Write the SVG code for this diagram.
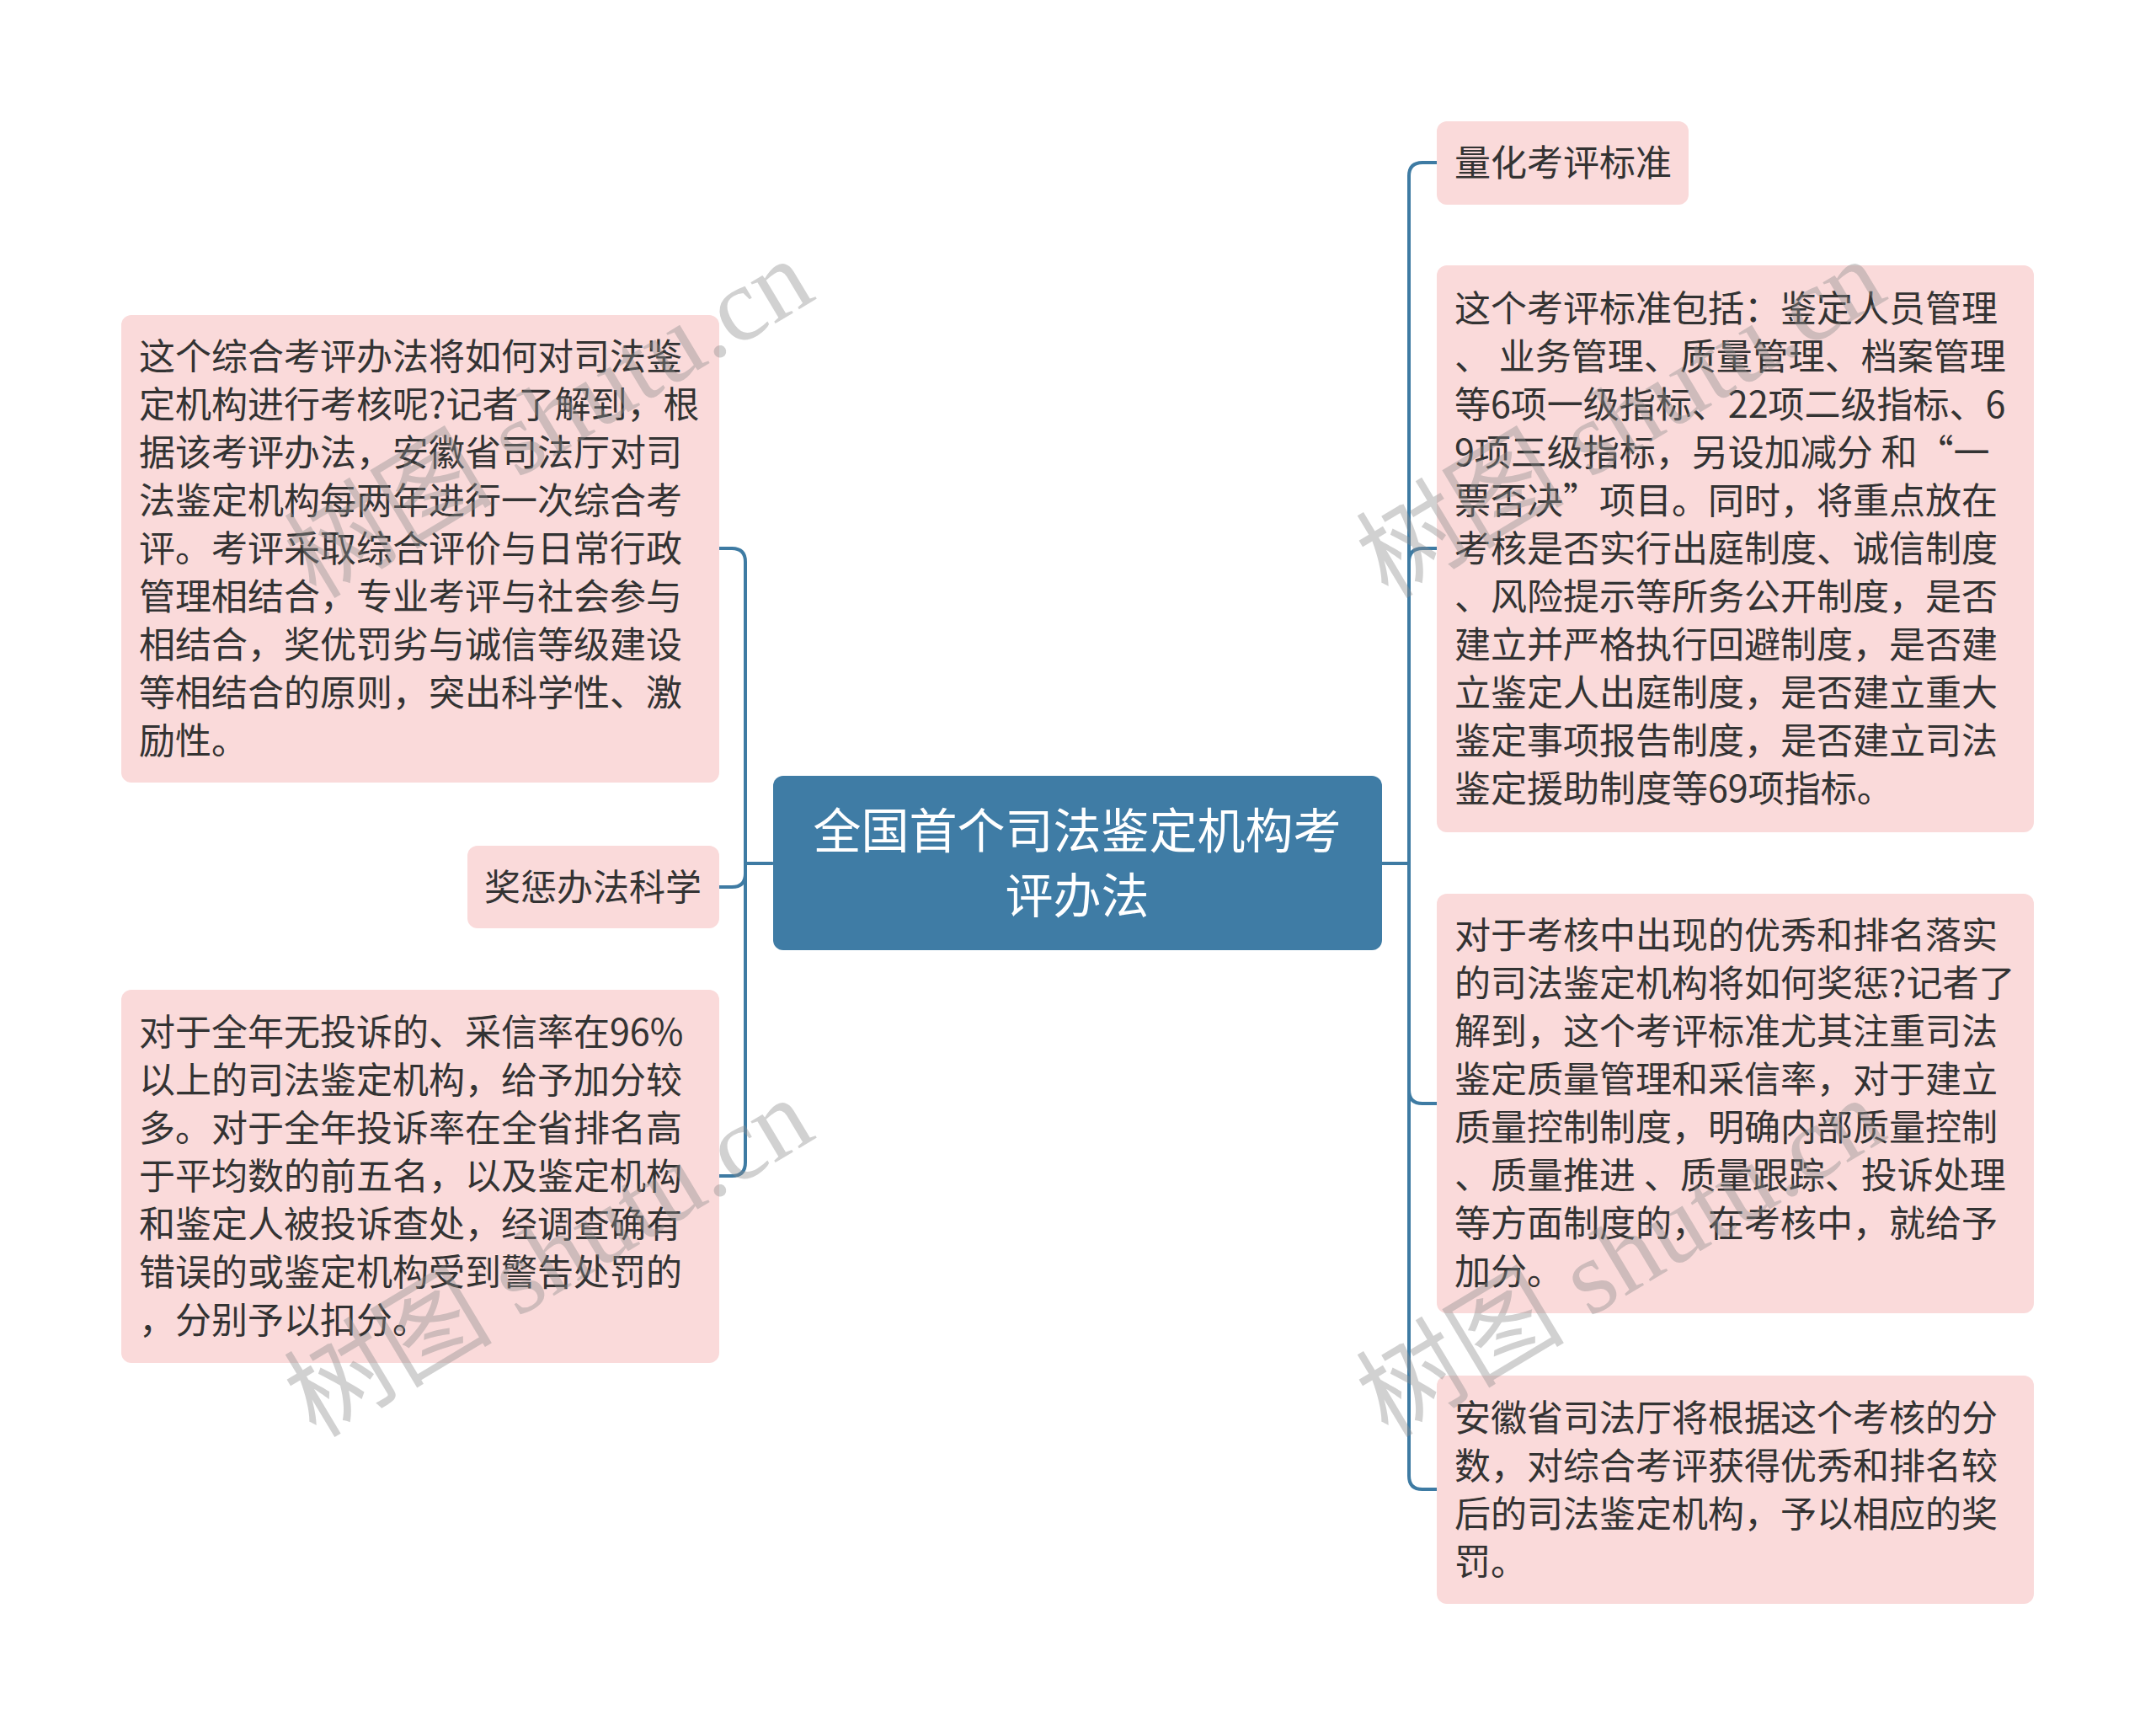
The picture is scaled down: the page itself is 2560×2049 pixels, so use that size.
<svg xmlns="http://www.w3.org/2000/svg" width="2560" height="2049" viewBox="0 0 2560 2049">
<style>
.bg{fill:#ffffff}
.conn{fill:none;stroke:#3E7BA3;stroke-width:4;stroke-linecap:round}
.box{fill:#FADADA}
.root{fill:#3F7CA5}
.t{font-family:"Noto Sans CJK SC","Noto Sans",sans-serif;font-size:43px;fill:#333333}
.rt{font-family:"Noto Sans CJK SC","Noto Sans",sans-serif;font-size:57px;fill:#ffffff;text-anchor:middle}
.wm{font-family:"Liberation Serif","Noto Sans CJK SC",serif;font-size:124px;fill:#8c8c8c;fill-opacity:0.4}
</style>
<rect class="bg" x="0" y="0" width="2560" height="2049"/>
<g id="connectors">
<path class="conn" d="M917 1025 L885 1025"/>
<path class="conn" d="M885 1025 L885 667 Q885 651 869 651 L854 651"/>
<path class="conn" d="M885 1025 L885 1037 Q885 1053 869 1053 L854 1053"/>
<path class="conn" d="M885 1025 L885 1380 Q885 1396 869 1396 L854 1396"/>
<path class="conn" d="M1641 1025 L1673 1025"/>
<path class="conn" d="M1673 1025 L1673 209 Q1673 193 1689 193 L1706 193"/>
<path class="conn" d="M1673 1025 L1673 667 Q1673 651 1689 651 L1706 651"/>
<path class="conn" d="M1673 1025 L1673 1294 Q1673 1310 1689 1310 L1706 1310"/>
<path class="conn" d="M1673 1025 L1673 1752 Q1673 1768 1689 1768 L1706 1768"/>
</g>
<g id="root">
<rect class="root" x="918" y="921" width="723" height="207" rx="12"/>
<text class="rt" x="1279" y="1007">全国首个司法鉴定机构考</text>
<text class="rt" x="1279" y="1084">评办法</text>
</g>
<g id="node-left-1">
<rect class="box" x="144" y="374" width="710" height="555" rx="12"/>
<text class="t" x="165"><tspan x="165" y="439">这个综合考评办法将如何对司法鉴</tspan><tspan x="165" y="496">定机构进行考核呢?记者了解到，根</tspan><tspan x="165" y="553">据该考评办法，安徽省司法厅对司</tspan><tspan x="165" y="610">法鉴定机构每两年进行一次综合考</tspan><tspan x="165" y="667">评。考评采取综合评价与日常行政</tspan><tspan x="165" y="724">管理相结合，专业考评与社会参与</tspan><tspan x="165" y="781">相结合，奖优罚劣与诚信等级建设</tspan><tspan x="165" y="838">等相结合的原则，突出科学性、激</tspan><tspan x="165" y="895">励性。</tspan></text>
</g>
<g id="node-left-2">
<rect class="box" x="555" y="1004" width="299" height="98" rx="12"/>
<text class="t" x="575" y="1069">奖惩办法科学</text>
</g>
<g id="node-left-3">
<rect class="box" x="144" y="1175" width="710" height="443" rx="12"/>
<text class="t"><tspan x="165" y="1241">对于全年无投诉的、采信率在96%</tspan><tspan x="165" y="1298">以上的司法鉴定机构，给予加分较</tspan><tspan x="165" y="1355">多。对于全年投诉率在全省排名高</tspan><tspan x="165" y="1412">于平均数的前五名，以及鉴定机构</tspan><tspan x="165" y="1469">和鉴定人被投诉查处，经调查确有</tspan><tspan x="165" y="1526">错误的或鉴定机构受到警告处罚的</tspan><tspan x="165" y="1583">，分别予以扣分。</tspan></text>
</g>
<g id="node-right-1">
<rect class="box" x="1706" y="144" width="299" height="99" rx="12"/>
<text class="t" x="1727" y="209">量化考评标准</text>
</g>
<g id="node-right-2">
<rect class="box" x="1706" y="315" width="709" height="673" rx="12"/>
<text class="t"><tspan x="1727" y="382">这个考评标准包括：鉴定人员管理</tspan><tspan x="1727" y="439">、 业务管理、质量管理、档案管理</tspan><tspan x="1727" y="496">等6项一级指标、22项二级指标、6</tspan><tspan x="1727" y="553">9项三级指标，另设加减分 和“一</tspan><tspan x="1727" y="610">票否决”项目。同时，将重点放在</tspan><tspan x="1727" y="667">考核是否实行出庭制度、诚信制度</tspan><tspan x="1727" y="724">、风险提示等所务公开制度，是否</tspan><tspan x="1727" y="781">建立并严格执行回避制度，是否建</tspan><tspan x="1727" y="838">立鉴定人出庭制度，是否建立重大</tspan><tspan x="1727" y="895">鉴定事项报告制度，是否建立司法</tspan><tspan x="1727" y="952">鉴定援助制度等69项指标。</tspan></text>
</g>
<g id="node-right-3">
<rect class="box" x="1706" y="1061" width="709" height="498" rx="12"/>
<text class="t"><tspan x="1727" y="1126">对于考核中出现的优秀和排名落实</tspan><tspan x="1727" y="1183">的司法鉴定机构将如何奖惩?记者了</tspan><tspan x="1727" y="1240">解到，这个考评标准尤其注重司法</tspan><tspan x="1727" y="1297">鉴定质量管理和采信率，对于建立</tspan><tspan x="1727" y="1354">质量控制制度，明确内部质量控制</tspan><tspan x="1727" y="1411">、质量推进 、质量跟踪、投诉处理</tspan><tspan x="1727" y="1468">等方面制度的，在考核中，就给予</tspan><tspan x="1727" y="1525">加分。</tspan></text>
</g>
<g id="node-right-4">
<rect class="box" x="1706" y="1633" width="709" height="271" rx="12"/>
<text class="t"><tspan x="1727" y="1699">安徽省司法厅将根据这个考核的分</tspan><tspan x="1727" y="1756">数，对综合考评获得优秀和排名较</tspan><tspan x="1727" y="1813">后的司法鉴定机构，予以相应的奖</tspan><tspan x="1727" y="1870">罚。</tspan></text>
</g>
<g id="watermarks">
<text class="wm" x="375" y="712" transform="rotate(-31 375 712)">树图 shutu.cn</text>
<text class="wm" x="375" y="1708" transform="rotate(-31 375 1708)">树图 shutu.cn</text>
<text class="wm" x="1648" y="712" transform="rotate(-31 1648 712)">树图 shutu.cn</text>
<text class="wm" x="1648" y="1708" transform="rotate(-31 1648 1708)">树图 shutu.cn</text>
</g>
</svg>
